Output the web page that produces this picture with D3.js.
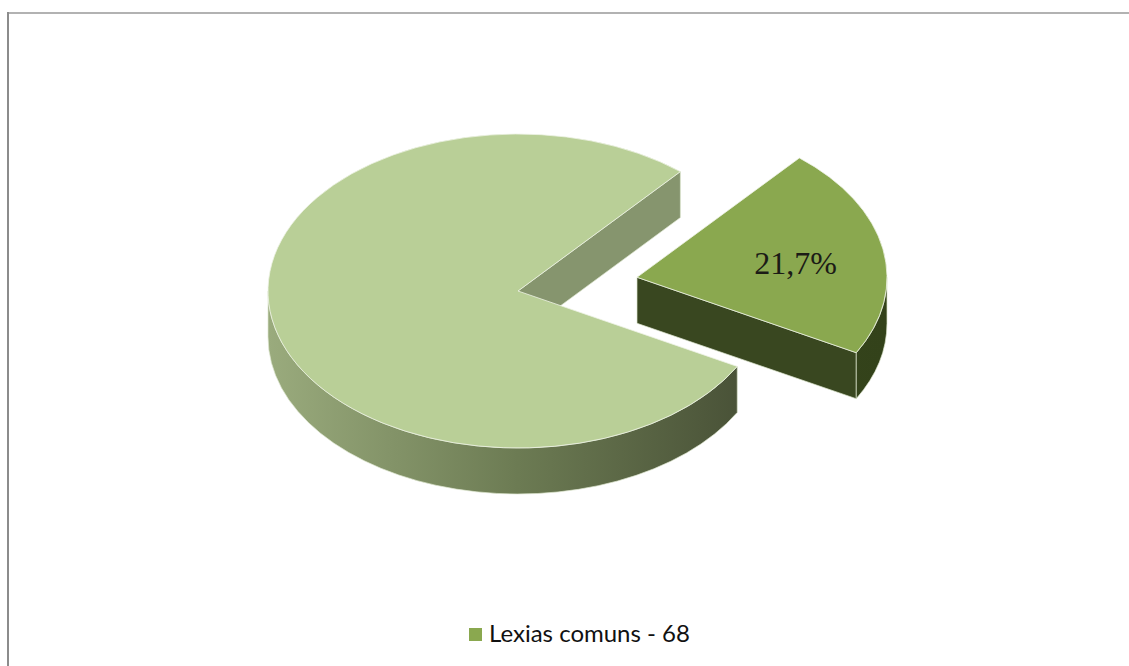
<!DOCTYPE html>
<html>
<head>
<meta charset="utf-8">
<script src="https://cdn.jsdelivr.net/npm/d3@7"></script>
<style>
  html, body { margin: 0; padding: 0; background: #ffffff; }
  svg { display: block; }
</style>
</head>
<body>
<svg id="chart" width="1129" height="666"></svg>
<script>
// Slice values (first slice is the exploded "Lexias comuns" slice)
const sliceValues = [68, 245];
const sliceLegend = ["Lexias comuns - 68", null];
const labelledSlices = [true, false];

// Styling per slice: top face, outer wall stops, cut face
const sliceStyles = [
  { top: "#8aa84f", wall: ["#3d4c21", "#33421a"], cut: "#394720" },
  { top: "#b9cf97", wall: ["#9aab7d", "#6c7b53", "#454d34"], cut: "#86956e" }
];

const W = 1129, H = 666;
const cx = 518, cy = 291;      // pie centre on screen
const rx = 250, ry = 157;      // ellipse radii of the tilted disc
const depth = 46;              // thickness of the disc
const explodeFrac = 0.484;     // how far the first slice is pulled out
const rotation = 40.5 * Math.PI / 180;

const svg = d3.select("#chart");
const defs = svg.append("defs");

// Frame of the chart area
svg.append("line").attr("x1", 8).attr("y1", 13).attr("x2", W).attr("y2", 13)
  .attr("stroke", "#b2b2b2").attr("stroke-width", 2);
svg.append("line").attr("x1", 8).attr("y1", 12).attr("x2", 8).attr("y2", H)
  .attr("stroke", "#8c8c8c").attr("stroke-width", 2);

const pie = d3.pie().sort(null).startAngle(rotation).endAngle(rotation + 2 * Math.PI);
const arcs = pie(sliceValues);
const total = d3.sum(sliceValues);

// d3.arc draws a circle of radius rx; the group is squashed vertically to an ellipse
const topArc = d3.arc().innerRadius(0).outerRadius(rx);

const px = (ox, t) => ox + rx * Math.cos(t);
const py = (oy, t) => oy + ry * Math.sin(t);

function wallPath(ox, oy, a, b) {
  return `M${px(ox, a)},${py(oy, a)}` +
    `A${rx},${ry} 0 0 1 ${px(ox, b)},${py(oy, b)}` +
    `L${px(ox, b)},${py(oy, b) + depth}` +
    `A${rx},${ry} 0 0 0 ${px(ox, a)},${py(oy, a) + depth}Z`;
}
function cutPath(ox, oy, t) {
  return `M${ox},${oy}L${px(ox, t)},${py(oy, t)}` +
    `L${px(ox, t)},${py(oy, t) + depth}L${ox},${oy + depth}Z`;
}

// Draw the big slice first, then the exploded slice on top
const order = [1, 0];
order.forEach(i => {
  const d = arcs[i];
  const st = sliceStyles[i];
  const a = d.startAngle - Math.PI / 2;   // screen angle, clockwise from +x
  const b = d.endAngle - Math.PI / 2;
  const mid = (a + b) / 2;
  const ex = i === 0 ? explodeFrac : 0;
  const ox = cx + ex * rx * Math.cos(mid);
  const oy = cy + ex * ry * Math.sin(mid);

  const g = svg.append("g");

  // wall gradient
  const gid = "wall" + i;
  const grad = defs.append("linearGradient").attr("id", gid)
    .attr("gradientUnits", "userSpaceOnUse")
    .attr("x1", ox - rx).attr("x2", ox + rx).attr("y1", 0).attr("y2", 0);
  st.wall.forEach((c, k) => grad.append("stop")
    .attr("offset", k / (st.wall.length - 1)).attr("stop-color", c));

  const edge = sel => sel.attr("stroke", "#dde5cf").attr("stroke-width", 0.7)
    .attr("stroke-linejoin", "round");

  // visible cut faces (normal facing the viewer)
  if (Math.cos(a) < 0) g.append("path").attr("d", cutPath(ox, oy, a)).attr("fill", st.cut).call(edge);
  if (Math.cos(b) > 0) g.append("path").attr("d", cutPath(ox, oy, b)).attr("fill", st.cut).call(edge);

  // visible part of the outer wall: screen angles within [0, PI] (front half)
  for (let k = -1; k <= 1; k++) {
    const lo = Math.max(a, k * 2 * Math.PI);
    const hi = Math.min(b, k * 2 * Math.PI + Math.PI);
    if (hi > lo) {
      g.append("path").attr("d", wallPath(ox, oy, lo, hi))
        .attr("fill", `url(#${gid})`).call(edge);
    }
  }

  // top face
  g.append("path")
    .attr("transform", `translate(${ox},${oy}) scale(1,${ry / rx})`)
    .attr("d", topArc(d))
    .attr("fill", st.top)
    .attr("stroke", "#eef3e4").attr("stroke-width", 0.8)
    .attr("vector-effect", "non-scaling-stroke");

  if (labelledSlices[i]) {
    const pct = d.value / total * 100;
    const txt = d3.format(".1f")(pct).replace(".", ",") + "%";
    const lr = 0.62;
    svg.append("text")
      .attr("x", ox + lr * rx * Math.cos(mid) + 6)
      .attr("y", oy + lr * ry * Math.sin(mid) + 14)
      .attr("text-anchor", "middle")
      .attr("font-family", "'Liberation Serif', 'Times New Roman', serif")
      .attr("font-size", 32)
      .attr("fill", "#1b1b16")
      .text(txt);
  }
});

// Legend
const legendItems = sliceLegend
  .map((t, i) => ({ t, i }))
  .filter(e => e.t !== null);
const lg = svg.append("g").attr("transform", "translate(469,628)");
legendItems.forEach((e, k) => {
  const row = lg.append("g").attr("transform", `translate(0,${k * 30})`);
  row.append("rect").attr("width", 13).attr("height", 13)
    .attr("fill", sliceStyles[e.i].top);
  row.append("text").attr("x", 20).attr("y", 14)
    .attr("font-family", "Lato, 'Open Sans', sans-serif")
    .attr("font-size", 24)
    .attr("fill", "#111")
    .text(e.t);
});
</script>
</body>
</html>
